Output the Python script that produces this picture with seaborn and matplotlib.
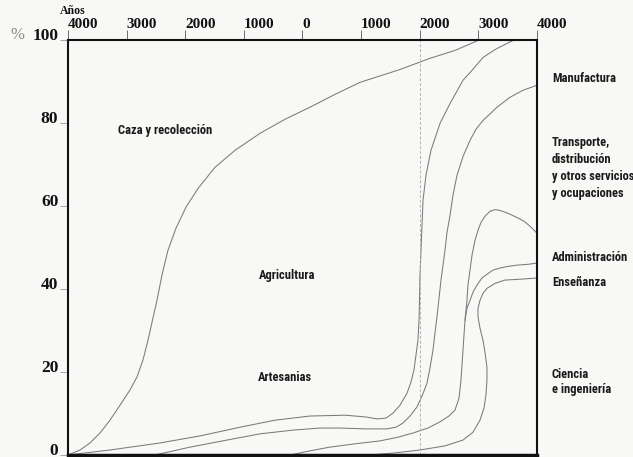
import pandas as pd
import matplotlib.pyplot as plt
import seaborn as sns

# límites entre sectores: año (negativo = a.C.) y % de la población
caza_x = [-4000, -3795, -3625, -3454, -3284, -3113, -2942, -2823, -2721, -2635, -2567, -2482, -2397, -2294,
          -2158, -1987, -1782, -1493, -1151, -725, -298, 128, 555, 981, 1663, 2175, 2601, 2994]
caza_y = [0, 1.2, 2.9, 5.3, 8.4, 12.0, 15.7, 18.8, 22.9, 27.7, 32.0, 37.3, 43.4, 49.4,
          54.7, 59.8, 64.3, 69.4, 73.5, 77.6, 81.0, 83.9, 87.0, 89.9, 93.0, 95.7, 97.6, 100]

artes_x = [-4000, -3284, -2431, -1748, -1066, -469, 128, 725, 1066, 1271, 1424, 1544, 1663, 1783, 1851, 1902,
           1936, 1970, 1988, 1996, 2005, 2022, 2039, 2056, 2107, 2192, 2346, 2517, 2738, 2892, 3079, 3284, 3489, 3591]
artes_y = [0, 1.2, 2.9, 4.6, 6.7, 8.4, 9.4, 9.6, 9.2, 8.7, 8.9, 10.1, 12.0, 14.9, 17.6, 20.5,
           24.1, 27.7, 32.5, 37.3, 43.4, 49.4, 55.4, 61.4, 67.5, 73.5, 80.0, 84.8, 90.4, 92.8, 95.9, 97.8, 99.3, 100]

manuf_x = [-2516, -1919, -1288, -725, -162, 299, 640, 1066, 1442, 1595, 1714, 1834, 1953, 2039, 2124, 2175,
           2226, 2260, 2294, 2329, 2363, 2397, 2431, 2465, 2517, 2567, 2636, 2738, 2858, 2960, 3079, 3318, 3540, 3762, 4000]
manuf_y = [0, 1.9, 3.6, 5.1, 6.0, 6.5, 6.5, 6.3, 6.3, 6.7, 7.7, 9.4, 11.6, 14.2, 17.3, 21.0,
           25.3, 29.4, 33.3, 37.8, 42.2, 45.8, 49.4, 53.7, 57.8, 62.7, 67.5, 72.0, 75.9, 78.6, 80.7, 83.9, 86.3, 88.0, 89.2]

transp_x = [-213, 128, 469, 896, 1322, 1629, 1885, 2141, 2346, 2499, 2601, 2670, 2704, 2721, 2738, 2755, 2772,
            2789, 2806, 2823, 2858, 2892, 2943, 2994, 3045, 3113, 3199, 3284, 3369, 3506, 3659, 3779, 3881, 4000]
transp_y = [0, 1.0, 1.9, 2.7, 3.4, 4.3, 5.3, 6.5, 8.0, 9.4, 10.8, 13.7, 18.1, 21.7, 25.3, 28.9, 32.5,
            34.9, 37.3, 41.0, 44.6, 48.2, 51.8, 54.2, 56.1, 57.6, 58.8, 59.2, 59.0, 58.3, 57.3, 56.4, 55.2, 53.5]

admin_x = [2772, 2806, 2858, 2909, 2977, 3062, 3147, 3250, 3369, 3506, 3659, 3847, 4000]
admin_y = [32.5, 35.4, 37.3, 39.3, 41.0, 42.7, 43.6, 44.6, 45.1, 45.5, 45.8, 46.0, 46.3]

ense_x = [1152, 1578, 2004, 2431, 2738, 2909, 3028, 3096, 3130, 3147, 3147, 3113, 3079, 3028, 2994, 2994,
          3028, 3079, 3147, 3284, 3454, 3710, 4000]
ense_y = [0, 0.5, 1.2, 2.2, 3.6, 5.5, 8.4, 11.3, 14.5, 18.1, 21.2, 24.8, 27.7, 30.6, 33.3, 35.4,
          37.3, 39.0, 40.2, 41.4, 42.2, 42.4, 42.7]

anios = [-4000, -3000, -2000, -1000, 0, 1000, 2000, 3000, 4000]
anios_txt = ["4000", "3000", "2000", "1000", "0", "1000", "2000", "3000", "4000"]
pcts = [0, 20, 40, 60, 80, 100]

lineas = {
    "caza": (caza_x, caza_y),
    "artes": (artes_x, artes_y),
    "manuf": (manuf_x, manuf_y),
    "transp": (transp_x, transp_y),
    "admin": (admin_x, admin_y),
    "ense": (ense_x, ense_y),
}
df = pd.concat([pd.DataFrame({"anio": x, "pct": y, "linea": k}) for k, (x, y) in lineas.items()])

sns.set_theme(style="white")
plt.rcParams["font.family"] = ["Liberation Serif", "DejaVu Serif"]
papel = "#f8f8f6"

fig = plt.figure(figsize=(6.33, 4.57), dpi=100, facecolor=papel)
ax = fig.add_axes([0.1074, 0.0044, 0.7409, 0.9070], facecolor=papel)

sns.lineplot(data=df, x="anio", y="pct", units="linea", estimator=None, sort=False,
             color="#7a7a7a", lw=0.75, ax=ax)
ax.axvline(2000, color="#b0b0b0", lw=0.7, ls=(0, (3, 2)))

ax.set_xlim(-4000, 4000)
ax.set_ylim(0, 100)
ax.set_xlabel("")
ax.set_ylabel("")

ax.xaxis.tick_top()
ax.set_xticks(anios)
ax.set_xticklabels(anios_txt, fontweight="bold", fontsize=11, ha="left", color="#111111")
ax.tick_params(axis="x", top=True, bottom=False, length=7, width=0.6, pad=0, color="#555555")

ax.set_yticks(pcts)
ax.set_yticklabels([str(p) for p in pcts], fontweight="bold", fontsize=12.5, va="baseline", color="#111111")
ax.tick_params(axis="y", left=True, length=6, width=0.6, pad=1, color="#999999")

for s in ["left", "top", "right"]:
    ax.spines[s].set_color("#111111")
    ax.spines[s].set_linewidth(1.5)
ax.spines["bottom"].set_color("#111111")
ax.spines["bottom"].set_linewidth(2.5)

fig.text(0.094, 1 - 11 / 457, "Años", fontsize=8.5, fontweight="bold", color="#111111", ha="left", va="center")
fig.text(0.016, 1 - 35 / 457, "%", fontsize=12, color="#888888", ha="left", va="center")

rot = dict(family=["Noto Sans Condensed", "DejaVu Sans Condensed", "Roboto Condensed", "Lato", "DejaVu Sans"],
           fontstretch="condensed", fontweight="bold", fontsize=9, color="#1a1a1a")
ax.text(-2345, 78.3, "Caza y recolección", ha="center", va="center", **rot)
ax.text(-264, 43.4, "Agricultura", ha="center", va="center", **rot)
ax.text(-298, 18.6, "Artesanias", ha="center", va="center", **rot)

dx = 4256
ax.text(dx, 90.8, "Manufactura", ha="left", va="center", clip_on=False, **rot)
ax.text(dx, 69.2, "Transporte,\ndistribución\ny otros servicios\ny ocupaciones", ha="left", va="center",
        linespacing=1.4, clip_on=False, **rot)
ax.text(dx, 47.7, "Administración", ha="left", va="center", clip_on=False, **rot)
ax.text(dx, 41.7, "Enseñanza", ha="left", va="center", clip_on=False, **rot)
ax.text(dx, 17.6, "Ciencia\ne ingeniería", ha="left", va="center", linespacing=1.25, clip_on=False, **rot)

fig.savefig("out.png", dpi=100, facecolor=papel)
